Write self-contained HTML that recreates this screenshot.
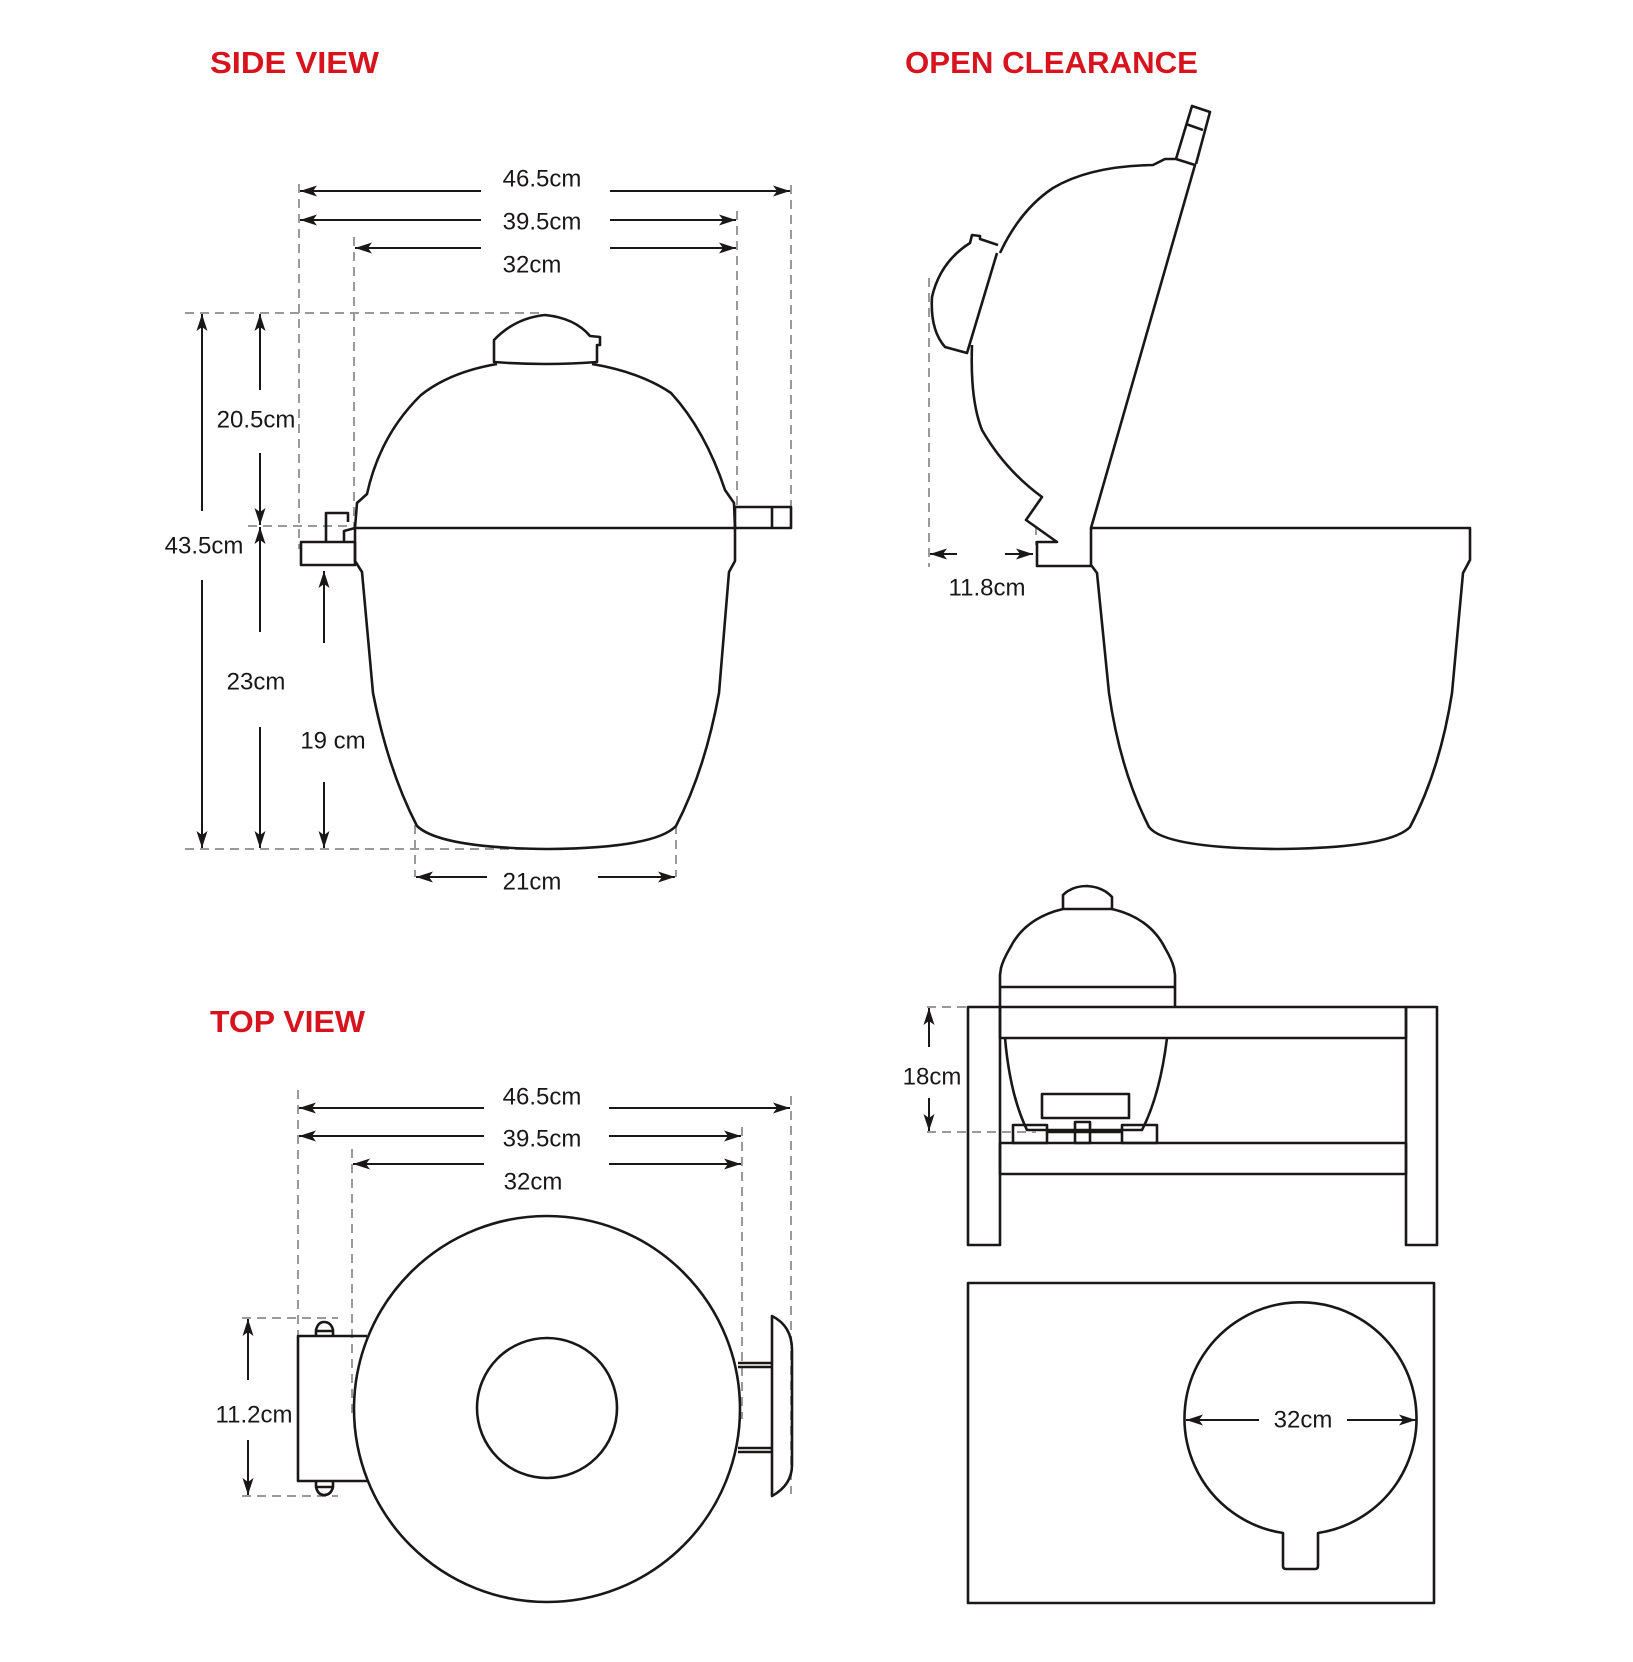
<!DOCTYPE html>
<html><head><meta charset="utf-8"><style>
html,body{margin:0;padding:0;background:#fff;}
svg{display:block;}
.o{fill:none;stroke:#1a1717;stroke-width:2.6;stroke-linejoin:round;}
.d{fill:none;stroke:#9a9a9a;stroke-width:2;stroke-dasharray:9 6;}
.a{stroke:#1a1717;stroke-width:2;marker-end:url(#ah);}
.t{font-family:"Liberation Sans",sans-serif;font-size:24px;fill:#1a1717;text-anchor:middle;dominant-baseline:central;}
.h{font-family:"Liberation Sans",sans-serif;font-weight:bold;font-size:31px;fill:#d7141e;}
</style></head><body>
<svg width="1633" height="1662" viewBox="0 0 1633 1662" xmlns="http://www.w3.org/2000/svg">
<defs><marker id="ah" markerUnits="userSpaceOnUse" markerWidth="18" markerHeight="12" refX="17" refY="5.5" orient="auto"><path d="M0,0 L17,5.5 L0,11 L4,5.5 z" fill="#1a1717"/></marker></defs>
<rect width="1633" height="1662" fill="#fff"/>

<text class="h" x="210" y="73" textLength="169" lengthAdjust="spacingAndGlyphs">SIDE VIEW</text>
<text class="h" x="905" y="73" textLength="293" lengthAdjust="spacingAndGlyphs">OPEN CLEARANCE</text>
<text class="h" x="210" y="1032" textLength="155" lengthAdjust="spacingAndGlyphs">TOP VIEW</text>

<!-- SIDE VIEW dims -->
<line class="d" x1="299" y1="184" x2="299" y2="549"/>
<line class="d" x1="354" y1="237" x2="354" y2="528"/>
<line class="d" x1="737" y1="211" x2="737" y2="509"/>
<line class="d" x1="791" y1="185" x2="791" y2="523"/>
<line class="d" x1="185" y1="313" x2="544" y2="313"/>
<line class="d" x1="185" y1="849" x2="544" y2="849"/>
<line class="d" x1="248" y1="526" x2="354" y2="526"/>
<line class="d" x1="415" y1="825" x2="415" y2="877"/>
<line class="d" x1="676" y1="825" x2="676" y2="877"/>

<line class="a" x1="481" y1="191" x2="300" y2="191"/><line class="a" x1="610" y1="191" x2="790" y2="191"/>
<text class="t" x="542" y="179">46.5cm</text>
<line class="a" x1="481" y1="220" x2="300" y2="220"/><line class="a" x1="610" y1="220" x2="736" y2="220"/>
<text class="t" x="542" y="222">39.5cm</text>
<line class="a" x1="481" y1="248" x2="355" y2="248"/><line class="a" x1="610" y1="248" x2="736" y2="248"/>
<text class="t" x="532" y="265">32cm</text>

<line class="a" x1="202" y1="511" x2="202" y2="314"/><line class="a" x1="202" y1="580" x2="202" y2="848"/>
<text class="t" x="204" y="546">43.5cm</text>
<line class="a" x1="260" y1="390" x2="260" y2="314"/><line class="a" x1="260" y1="453" x2="260" y2="525"/>
<text class="t" x="256" y="420">20.5cm</text>
<line class="a" x1="260" y1="632" x2="260" y2="527"/><line class="a" x1="260" y1="727" x2="260" y2="848"/>
<text class="t" x="256" y="682">23cm</text>
<line class="a" x1="324" y1="643" x2="324" y2="571"/><line class="a" x1="324" y1="782" x2="324" y2="848"/>
<text class="t" x="333" y="741">19 cm</text>
<line class="a" x1="487" y1="877" x2="416" y2="877"/><line class="a" x1="598" y1="877" x2="675" y2="877"/>
<text class="t" x="532" y="882">21cm</text>

<!-- SIDE VIEW grill -->
<path class="o" d="M494,362 L494,340 Q515,318 545,315 Q575,318 590,336 L600,337 L600,345 L597,345 L597,362 Q545,366 494,362 Z"/>
<path class="o" d="M497,364 Q450,372 421,395 Q380,435 367,494 L357,503 L355,528 L735,528 L734,503 L725,490 Q705,430 671,393 Q640,372 592,364"/>
<path class="o" d="M355,528 L355,561 L362,572 L373,693 Q388,770 417,826 Q440,848 548,849 Q655,848 676,826 Q705,770 719,693 L729,572 L735,561 L735,528"/>
<rect class="o" x="735" y="507" width="56" height="21"/><line class="o" x1="772" y1="507" x2="772" y2="528"/>
<rect class="o" x="301" y="542" width="54" height="23"/>
<path class="o" d="M326,542 L326,513 L348,513 L348,522"/>
<path class="o" d="M344,542 L344,531 L355,528"/>

<!-- OPEN CLEARANCE -->
<line class="d" x1="929" y1="278" x2="929" y2="567"/>
<line class="d" x1="1036" y1="526" x2="1036" y2="545"/>
<line class="a" x1="957" y1="554" x2="930" y2="554"/><line class="a" x1="1005" y1="554" x2="1033" y2="554"/>
<text class="t" x="987" y="588">11.8cm</text>
<path class="o" d="M1091,528 L1470,528 L1470,560 L1463,573 L1452,693 Q1440,770 1410,827 Q1390,848 1277,849 Q1165,848 1149,827 Q1120,770 1109,693 L1097,573 L1091,565 Z"/>
<path class="o" d="M1091,528 L1195,165 L1176,159 L1165,159 L1153,165 Q1090,166 1053,188 Q1020,210 1000,253"/>
<path class="o" d="M1176,159 L1192,106 L1210,112 L1196,164"/>
<line class="o" x1="1186" y1="124" x2="1203" y2="130"/>
<path class="o" d="M998,245 L980,239 L980,236 L972,235 L970,243 Q940,262 932,297 Q930,330 945,347 L967,353 L997,253"/>
<path class="o" d="M972,345 Q970,400 982,430 Q1005,470 1042,497 L1026,520 L1057,542 L1037,542 L1037,566 L1091,566"/>

<!-- Table view -->
<path class="o" d="M1063,909 L1063,895 Q1072,886 1087,886 Q1103,887 1112,897 L1112,909 Z"/>
<path class="o" d="M1063,909 Q1025,918 1010,948 Q1003,960 1001,968 L1000,975 L1000,1007 M1112,909 Q1150,918 1165,948 Q1172,960 1174,968 L1175,975 L1175,1007"/>
<line class="o" x1="1000" y1="987" x2="1175" y2="987"/>
<path class="o" d="M1005,1038 Q1010,1095 1027,1130 L1142,1130 Q1160,1095 1167,1038"/>
<rect class="o" x="1042" y="1094" width="87" height="24"/>
<rect class="o" x="1013" y="1125" width="34" height="18"/>
<rect class="o" x="1075" y="1122" width="15" height="21"/>
<rect class="o" x="1122" y="1125" width="35" height="18"/>
<line class="o" x1="1047" y1="1132" x2="1122" y2="1132"/>
<rect class="o" x="968" y="1007" width="32" height="238"/>
<rect class="o" x="1406" y="1007" width="31" height="238"/>
<rect class="o" x="1000" y="1007" width="406" height="31"/>
<rect class="o" x="1000" y="1143" width="406" height="31"/>
<line class="d" x1="927" y1="1007" x2="968" y2="1007"/>
<line class="d" x1="927" y1="1132" x2="1036" y2="1132"/>
<line class="a" x1="929" y1="1047" x2="929" y2="1008"/><line class="a" x1="929" y1="1098" x2="929" y2="1131"/>
<text class="t" x="932" y="1077">18cm</text>

<!-- Bottom right -->
<rect class="o" x="968" y="1283" width="466" height="320"/>
<path class="o" d="M1283,1533 A116,116 0 1 1 1318,1533 L1318,1566 Q1318,1569 1315,1569 L1286,1569 Q1283,1569 1283,1566 Z"/>
<line class="a" x1="1259" y1="1420" x2="1186" y2="1420"/><line class="a" x1="1347" y1="1420" x2="1416" y2="1420"/>
<text class="t" x="1303" y="1420">32cm</text>

<!-- TOP VIEW -->
<line class="d" x1="298" y1="1090" x2="298" y2="1336"/>
<line class="d" x1="352" y1="1149" x2="352" y2="1415"/>
<line class="d" x1="742" y1="1127" x2="742" y2="1419"/>
<line class="d" x1="791" y1="1096" x2="791" y2="1494"/>
<line class="d" x1="242" y1="1318" x2="338" y2="1318"/>
<line class="d" x1="242" y1="1496" x2="338" y2="1496"/>
<line class="a" x1="484" y1="1108" x2="299" y2="1108"/><line class="a" x1="609" y1="1108" x2="790" y2="1108"/>
<text class="t" x="542" y="1097">46.5cm</text>
<line class="a" x1="484" y1="1136" x2="299" y2="1136"/><line class="a" x1="609" y1="1136" x2="741" y2="1136"/>
<text class="t" x="542" y="1139">39.5cm</text>
<line class="a" x1="484" y1="1164" x2="353" y2="1164"/><line class="a" x1="609" y1="1164" x2="741" y2="1164"/>
<text class="t" x="533" y="1182">32cm</text>
<line class="a" x1="248" y1="1380" x2="248" y2="1319"/><line class="a" x1="248" y1="1440" x2="248" y2="1495"/>
<text class="t" x="254" y="1415">11.2cm</text>
<path class="o" d="M367,1336 L298,1336 L298,1481 L367,1481"/>
<path class="o" d="M316,1336 L316,1330 Q318,1322 324,1322 Q331,1322 333,1330 L333,1336 M316,1481 L316,1487 Q318,1495 324,1495 Q331,1495 333,1487 L333,1481"/>
<line class="o" x1="316" y1="1331" x2="333" y2="1331"/><line class="o" x1="316" y1="1487" x2="333" y2="1487"/>
<circle class="o" cx="547" cy="1409" r="193"/>
<circle class="o" cx="547" cy="1408" r="70"/>
<path class="o" d="M738,1363 L772,1363 M738,1367 L772,1367 M738,1448 L772,1448 M738,1452 L772,1452"/>
<path class="o" d="M772,1316 Q792,1326 792,1350 L792,1465 Q792,1485 772,1496 Z"/>
</svg>
</body></html>
